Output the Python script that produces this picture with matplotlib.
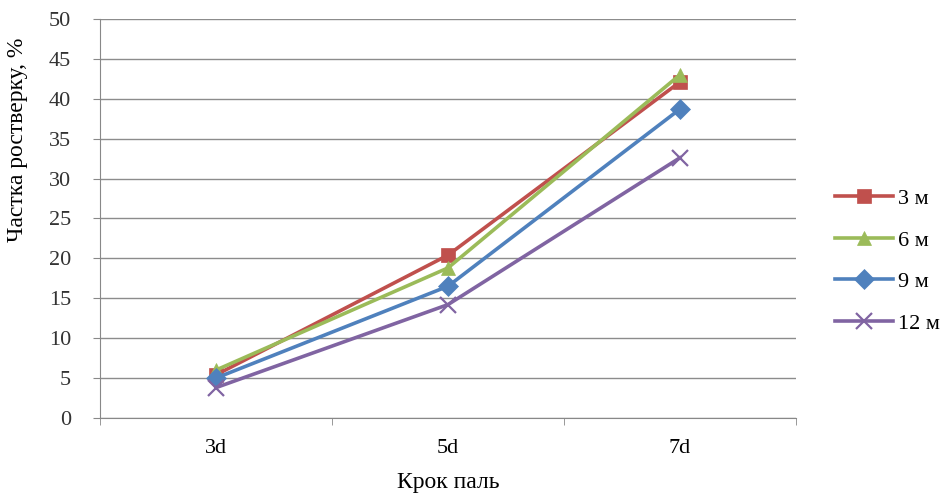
import matplotlib.pyplot as plt

categories = ["3d", "5d", "7d"]
series_names = ["3 м", "6 м", "9 м", "12 м"]
s3 = [5.4, 20.4, 42.1]
s6 = [6.0, 18.8, 43.0]
s9 = [5.0, 16.5, 38.7]
s12 = [3.8, 14.2, 32.6]

colors = ["#c0504d", "#9bbb59", "#4f81bd", "#8064a2"]
markers = ["s", "^", "D", "x"]


def main():
    plt.rcParams['font.family'] = ['Liberation Serif', 'DejaVu Serif']
    fig = plt.figure(figsize=(9.44, 4.94), dpi=100)
    ax = fig.add_axes([0.106, 0.154, 0.737, 0.8075])

    xs = list(range(len(categories)))
    for vals, name, c, m in zip([s3, s6, s9, s12], series_names, colors, markers):
        ms = 10 if m != "x" else 12
        ax.plot(xs, vals, color=c, marker=m, markersize=ms, lw=2.6,
                markeredgewidth=1.6 if m == "x" else 0.5, label=name, zorder=3)

    ax.set_xlim(-0.5, len(categories) - 0.5)
    ax.set_ylim(0, 50)
    ax.set_yticks(range(0, 51, 5))
    ax.set_xticks(xs)
    ax.set_xticklabels(categories)
    ax.set_xticks([-0.5, 0.5, 1.5, 2.5], minor=True)
    ax.tick_params(axis='x', which='major', length=0, pad=15, labelsize=16)
    ax.tick_params(axis='x', which='minor', length=5, color='#888888')
    ax.tick_params(axis='y', length=5, color='#888888', labelsize=16,
                   labelcolor='#333333', pad=16)
    ax.yaxis.grid(True, color='#8c8c8c', lw=1)
    ax.set_axisbelow(True)
    for s in ['top', 'right']:
        ax.spines[s].set_visible(False)
    ax.spines['left'].set_color('#888888')
    ax.spines['bottom'].set_color('#888888')

    ax.set_xlabel("Крок паль", fontsize=17, labelpad=10)
    ax.set_ylabel("Частка ростверку, %", fontsize=17)
    ax.yaxis.set_label_coords(-0.104, 0.697)

    ax.legend(loc='center left', bbox_to_anchor=(1.056, 0.393), frameon=False,
              fontsize=16, handlelength=2.6, handletextpad=0.25,
              labelspacing=0.95, borderaxespad=0, borderpad=0)

    fig.savefig("out.png", dpi=100)


if __name__ == "__main__":
    main()
